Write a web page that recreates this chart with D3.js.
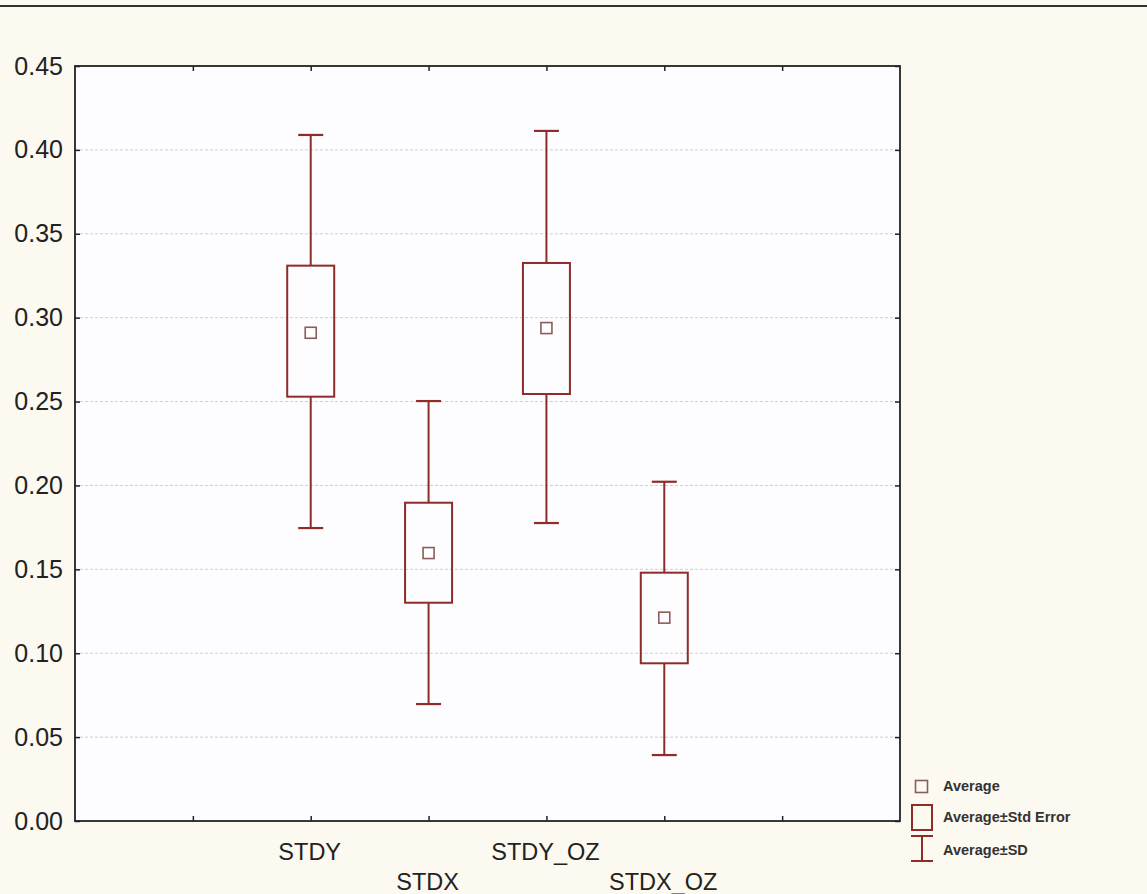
<!DOCTYPE html>
<html>
<head>
<meta charset="utf-8">
<script src="https://cdn.jsdelivr.net/npm/d3@7"></script>
<style>
  html, body { margin: 0; padding: 0; background: #fcf9f1; }
  svg { display: block; }
</style>
</head>
<body>
<svg id="chart" width="1147" height="894"></svg>
<script>
const categories = ["STDY", "STDX", "STDY_OZ", "STDX_OZ"];
const catPos = [2, 3, 4, 5];
const means = [0.291, 0.1597, 0.2938, 0.1212];
const seLow = [0.2529, 0.1301, 0.2545, 0.0940];
const seHigh = [0.3310, 0.1897, 0.3326, 0.1480];
const sdLow = [0.1746, 0.0697, 0.1776, 0.0393];
const sdHigh = [0.4089, 0.2503, 0.4113, 0.2022];
const yTicks = [0, 0.05, 0.10, 0.15, 0.20, 0.25, 0.30, 0.35, 0.40, 0.45];
const xTicks = [1, 2, 3, 4, 5, 6];
const legendLabels = ["Average", "Average\u00b1Std Error", "Average\u00b1SD"];

const svg = d3.select("#chart");
const L = 75, R = 900, T = 66, B = 821;
const x = d3.scaleLinear().domain([0, 7]).range([L, R]);
const y = d3.scaleLinear().domain([0, 0.45]).range([B, T]);

const red = "#8e2c2a";
const font = "Liberation Sans, Arial, sans-serif";

// top border line
svg.append("line").attr("x1", 0).attr("x2", 1147).attr("y1", 6).attr("y2", 6)
  .attr("stroke", "#333").attr("stroke-width", 2);

// plot background
svg.append("rect").attr("x", L).attr("y", T).attr("width", R - L).attr("height", B - T)
  .attr("fill", "#fdfdff");

// gridlines
svg.append("g").selectAll("line").data(yTicks.filter(d => d > 0 && d < 0.45)).join("line")
  .attr("x1", L).attr("x2", R).attr("y1", d => y(d)).attr("y2", d => y(d))
  .attr("stroke", "#cfcfcf").attr("stroke-width", 1).attr("stroke-dasharray", "3,2");

// axes with inward ticks
const axL = d3.axisLeft(y).tickValues(yTicks).tickSize(-5).tickFormat(d3.format(".2f")).tickPadding(12);
const gL = svg.append("g").attr("transform", `translate(${L},0)`).call(axL);
gL.selectAll("text").attr("font-size", 25).attr("font-family", font).attr("fill", "#222");

const axR = d3.axisRight(y).tickValues(yTicks).tickSize(-5).tickFormat("");
svg.append("g").attr("transform", `translate(${R},0)`).call(axR);

const axB = d3.axisBottom(x).tickValues(xTicks).tickSize(-5).tickFormat("");
svg.append("g").attr("transform", `translate(0,${B})`).call(axB);
const axT = d3.axisTop(x).tickValues(xTicks).tickSize(-5).tickFormat("");
svg.append("g").attr("transform", `translate(0,${T})`).call(axT);

svg.selectAll(".domain").remove();
svg.selectAll(".tick line").attr("stroke", "#222").attr("stroke-width", 1.5);

// frame
svg.append("rect").attr("x", L).attr("y", T).attr("width", R - L).attr("height", B - T)
  .attr("fill", "none").attr("stroke", "#222").attr("stroke-width", 1.8);

// category labels (staggered)
svg.append("g").selectAll("text").data(categories).join("text")
  .attr("x", (d, i) => x(catPos[i]) - 1)
  .attr("y", (d, i) => i % 2 === 0 ? 860 : 890)
  .attr("text-anchor", "middle")
  .attr("font-size", 23.5).attr("font-family", font).attr("fill", "#222")
  .text(d => d);

// boxes
const bw = 47, cw = 25;
const g = svg.append("g");
categories.forEach((c, i) => {
  const cx = x(catPos[i]);
  g.append("line").attr("x1", cx).attr("x2", cx).attr("y1", y(sdHigh[i])).attr("y2", y(seHigh[i]))
    .attr("stroke", red).attr("stroke-width", 2);
  g.append("line").attr("x1", cx).attr("x2", cx).attr("y1", y(seLow[i])).attr("y2", y(sdLow[i]))
    .attr("stroke", red).attr("stroke-width", 2);
  [sdHigh[i], sdLow[i]].forEach(v => {
    g.append("line").attr("x1", cx - cw / 2).attr("x2", cx + cw / 2).attr("y1", y(v)).attr("y2", y(v))
      .attr("stroke", red).attr("stroke-width", 2.2);
  });
  g.append("rect").attr("x", cx - bw / 2).attr("y", y(seHigh[i]))
    .attr("width", bw).attr("height", y(seLow[i]) - y(seHigh[i]))
    .attr("fill", "none").attr("stroke", red).attr("stroke-width", 2);
  g.append("rect").attr("x", cx - 5.5).attr("y", y(means[i]) - 5.5).attr("width", 11).attr("height", 11)
    .attr("fill", "none").attr("stroke", "#8a5d5a").attr("stroke-width", 1.6);
});

// legend
const lg = svg.append("g");
lg.append("rect").attr("x", 915.5).attr("y", 780.5).attr("width", 12).attr("height", 12)
  .attr("fill", "none").attr("stroke", "#8a5d5a").attr("stroke-width", 1.6);
lg.append("rect").attr("x", 912).attr("y", 805).attr("width", 20).attr("height", 25)
  .attr("fill", "none").attr("stroke", red).attr("stroke-width", 2);
lg.append("line").attr("x1", 922).attr("x2", 922).attr("y1", 836).attr("y2", 861).attr("stroke", red).attr("stroke-width", 2);
lg.append("line").attr("x1", 911).attr("x2", 933).attr("y1", 836).attr("y2", 836).attr("stroke", red).attr("stroke-width", 2);
lg.append("line").attr("x1", 911).attr("x2", 933).attr("y1", 861).attr("y2", 861).attr("stroke", red).attr("stroke-width", 2);
const ly = [791, 822, 855];
lg.selectAll("text").data(legendLabels).join("text")
  .attr("x", 943).attr("y", (d, i) => ly[i])
  .attr("font-size", 14.5).attr("font-weight", "bold").attr("font-family", font).attr("fill", "#333")
  .text(d => d);
</script>
</body>
</html>
